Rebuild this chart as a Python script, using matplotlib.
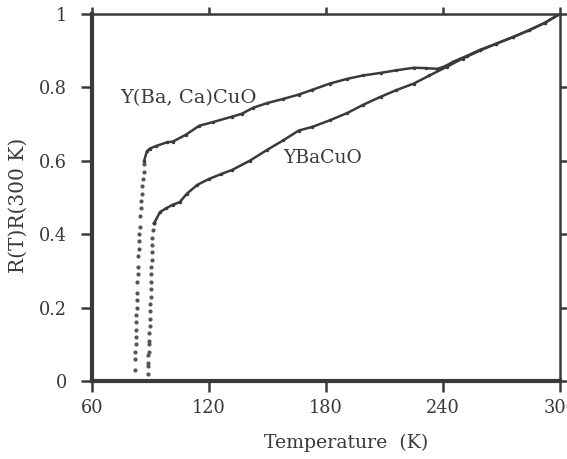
import matplotlib
matplotlib.use("Agg")
import matplotlib.pyplot as plt

# Y(Ba, Ca)CuO: sparse dots along the transition, then dense trace
ybc_dot_T = [82.1, 82.2, 82.3, 82.4, 82.5, 82.6, 82.7, 82.8, 82.9, 83.0, 83.1, 83.3,
             83.5, 83.6, 83.8, 84.0, 84.2, 84.4, 84.6, 84.9, 85.1, 85.4, 85.6, 85.9,
             86.2, 86.5, 86.8]
ybc_dot_R = [0.03, 0.06, 0.08, 0.10, 0.12, 0.14, 0.16, 0.18, 0.20, 0.22, 0.24, 0.27,
             0.29, 0.31, 0.34, 0.36, 0.38, 0.40, 0.42, 0.45, 0.47, 0.49, 0.51, 0.53,
             0.55, 0.57, 0.59]
ybc_T = [86.8, 88.2, 89.7, 93, 98.5, 101.5, 108, 115, 122, 132, 137, 142.6, 150, 158,
         166, 173, 182, 191, 199, 208, 216, 225, 231, 237, 241, 245, 252, 259, 267,
         276, 284, 292, 300]
ybc_R = [0.60, 0.625, 0.633, 0.64, 0.65, 0.652, 0.67, 0.695, 0.705, 0.72, 0.728, 0.744,
         0.757, 0.768, 0.78, 0.793, 0.81, 0.823, 0.832, 0.839, 0.846, 0.853, 0.852,
         0.85, 0.857, 0.869, 0.885, 0.902, 0.918, 0.937, 0.955, 0.975, 1.0]

# YBaCuO
ybco_dot_T = [88.7, 88.8, 88.9, 89.0, 89.1, 89.2, 89.4, 89.5, 89.6, 89.8, 89.9, 90.0,
              90.1, 90.2, 90.3, 90.4, 90.5, 90.6, 90.7, 90.8, 91.0, 91.3, 92.0]
ybco_dot_R = [0.02, 0.04, 0.05, 0.07, 0.08, 0.10, 0.11, 0.13, 0.15, 0.17, 0.19, 0.21,
              0.23, 0.25, 0.27, 0.29, 0.31, 0.33, 0.35, 0.37, 0.39, 0.41, 0.43]
ybco_T = [92, 94.9, 98, 101.5, 105, 108.7, 114, 120, 126, 132, 141, 150, 158, 166, 173,
          182, 191, 199, 208, 216, 225, 233, 242, 250, 259, 267, 276, 284, 292, 300]
ybco_R = [0.43, 0.46, 0.47, 0.48, 0.487, 0.51, 0.534, 0.55, 0.563, 0.575, 0.60, 0.63,
          0.655, 0.682, 0.692, 0.71, 0.73, 0.752, 0.774, 0.792, 0.81, 0.832, 0.856,
          0.878, 0.90, 0.918, 0.937, 0.955, 0.975, 1.0]

x_ticks = [60, 120, 180, 240, 300]
y_ticks = [0, 0.2, 0.4, 0.6, 0.8, 1]
y_ticklabels = ["0", "0.2", "0.4", "0.6", "0.8", "1"]

ink = "#3a3a3a"
plt.rcParams["font.family"] = ["DejaVu Serif"]

fig = plt.figure(figsize=(5.67, 4.59), dpi=100)
ax = fig.add_axes([0.162, 0.170, 0.826, 0.8])

for T, R in [(ybc_dot_T, ybc_dot_R), (ybco_dot_T, ybco_dot_R)]:
    ax.plot(T, R, linestyle="none", marker="o", markersize=2.0, color="#555555")
for T, R in [(ybc_T, ybc_R), (ybco_T, ybco_R)]:
    ax.plot(T, R, color=ink, linewidth=1.8, marker="o", markersize=1.5)

ax.text(74.4, 0.771, "Y(Ba, Ca)CuO", fontsize=14, color=ink, va="center")
ax.text(158, 0.608, "YBaCuO", fontsize=13.5, color=ink, va="center")

ax.set_xlim(60, 300)
ax.set_ylim(0, 1)
ax.set_xticks(x_ticks)
ax.set_yticks(y_ticks)
ax.set_yticklabels(y_ticklabels)
ax.tick_params(direction="out", length=8, width=1.8, colors=ink, labelsize=12.8,
               top=True, right=True, labeltop=False, labelright=False)
ax.tick_params(axis="x", pad=5)
ax.tick_params(axis="y", pad=10)
for tl in ax.xaxis.get_major_ticks():
    tl.tick2line.set_markersize(5)
for tl in ax.yaxis.get_major_ticks():
    tl.tick2line.set_markersize(6)
for side in ["left", "bottom"]:
    ax.spines[side].set_linewidth(3)
for side in ["top", "right"]:
    ax.spines[side].set_linewidth(1.8)
for s in ax.spines.values():
    s.set_color(ink)

fig.text(346 / 567, 1 - 443 / 459, "Temperature  (K)", fontsize=13.6, color=ink,
         ha="center", va="center")
fig.text(18 / 567, 1 - 205 / 459, "R(T)R(300 K)", fontsize=14.5, color=ink,
         ha="center", va="center", rotation=90)

fig.savefig("out.png", dpi=100)
